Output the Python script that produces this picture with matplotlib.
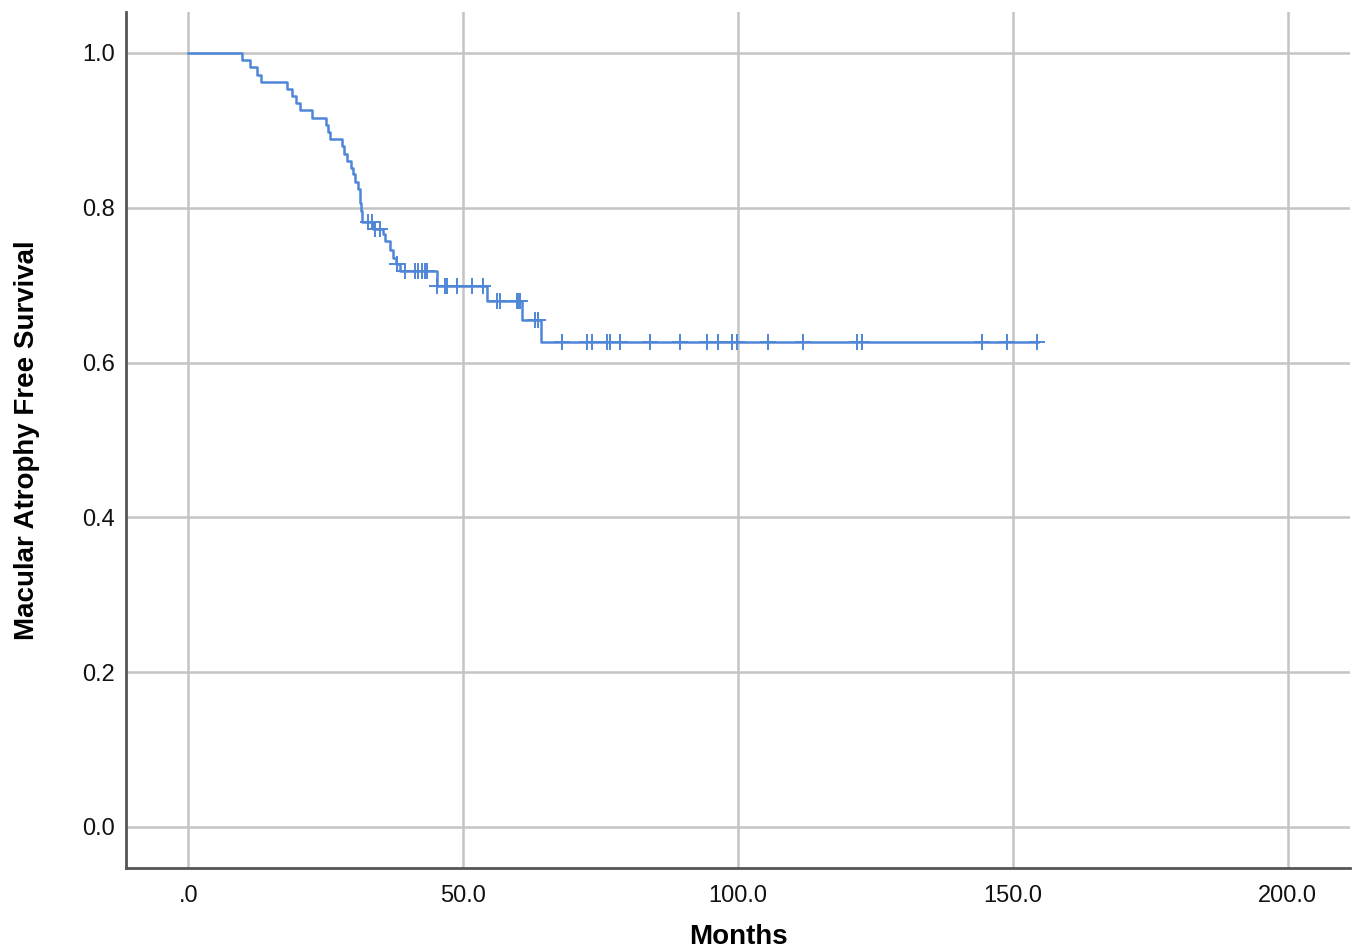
import numpy as np
import matplotlib
matplotlib.use("Agg")
import matplotlib.pyplot as plt

# Kaplan-Meier step data (time in months, survival after the event)
event_times = [0.0, 9.8, 11.2, 12.5, 13.2, 18.0, 18.8, 19.6, 20.3, 22.6,
               25.0, 25.4, 25.8, 28.0, 28.4, 28.8, 29.6, 30.0, 30.4, 30.8,
               31.2, 31.4, 31.6, 33.7, 35.5, 35.8, 36.7, 37.3, 37.8, 38.5,
               45.3, 54.4, 60.7, 64.2]
surv_levels = [1.0, 0.991, 0.982, 0.972, 0.963, 0.954, 0.944, 0.935, 0.926, 0.916,
               0.907, 0.898, 0.889, 0.880, 0.870, 0.861, 0.852, 0.843, 0.833, 0.824,
               0.806, 0.796, 0.782, 0.773, 0.766, 0.757, 0.745, 0.735, 0.727, 0.718,
               0.699, 0.679, 0.655, 0.627]
censor_times = [32.7, 33.5, 34.0, 34.9, 38.0, 39.5, 41.3, 41.8, 42.5, 43.1,
                43.5, 45.3, 46.7, 47.1, 48.9, 51.6, 53.6, 56.2, 56.7, 59.8,
                60.0, 60.4, 63.1, 63.6, 67.9, 72.5, 73.4, 76.1, 76.7, 78.5,
                84.0, 89.5, 94.3, 96.4, 98.9, 99.8, 105.5, 111.9, 121.6, 122.5,
                144.3, 148.9, 154.3]
last_time = 154.5

x_ticks = [0, 50, 100, 150, 200]
x_tick_labels = [".0", "50.0", "100.0", "150.0", "200.0"]
y_ticks = [0.0, 0.2, 0.4, 0.6, 0.8, 1.0]
y_tick_labels = ["0.0", "0.2", "0.4", "0.6", "0.8", "1.0"]

plt.rcParams['font.family'] = ['Liberation Sans', 'DejaVu Sans']

fig = plt.figure(figsize=(13.57, 9.49), dpi=100)
ax = fig.add_axes([0.0929, 0.0854, 0.9019, 0.902])

line_color = "#4f86d8"
grid_color = "#c4c4c4"

xs = list(event_times) + [last_time]
ys = list(surv_levels) + [surv_levels[-1]]
ax.step(xs, ys, where="post", color=line_color, lw=1.8, zorder=3)

et = np.array(event_times)
sl = np.array(surv_levels)
ct = np.array(censor_times)
idx = np.searchsorted(et, ct, side="right") - 1
cy = sl[idx]
ax.plot(ct, cy, linestyle="none", marker="+", markersize=12, markeredgewidth=1.4,
        color=line_color, zorder=4)

ax.set_xlim(-11.3, 211.3)
ax.set_ylim(-0.053, 1.053)
ax.set_xticks(x_ticks)
ax.set_xticklabels(x_tick_labels)
ax.set_yticks(y_ticks)
ax.set_yticklabels(y_tick_labels)
ax.tick_params(axis="both", length=0, labelsize=17, colors="#111111")
ax.tick_params(axis="x", pad=12)
ax.tick_params(axis="y", pad=8)

ax.grid(True, color=grid_color, lw=1.8, zorder=0)
ax.set_axisbelow(True)
for s in ["top", "right"]:
    ax.spines[s].set_visible(False)
for s in ["left", "bottom"]:
    ax.spines[s].set_color("#555555")
    ax.spines[s].set_linewidth(2.0)

ax.set_xlabel("Months", fontsize=20, fontweight="bold", va="center")
ax.xaxis.set_label_coords(0.5, -0.0806)
ax.set_ylabel("Macular Atrophy Free Survival", fontsize=20, fontweight="bold", va="center")
ax.yaxis.set_label_coords(-0.0809, 0.5)

fig.savefig("out.png", dpi=100)
